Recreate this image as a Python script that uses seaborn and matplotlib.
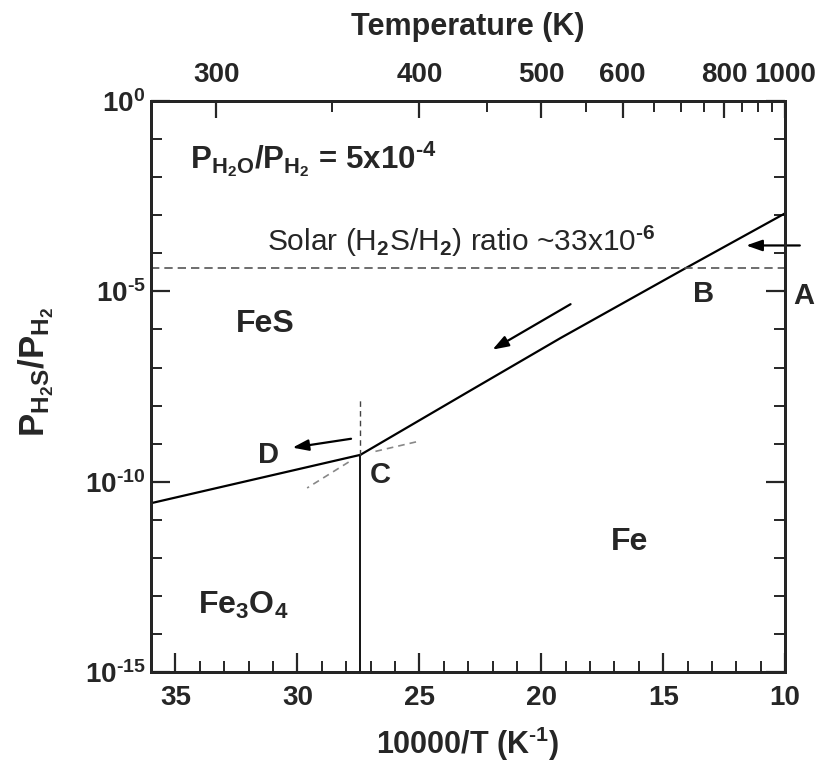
import matplotlib
matplotlib.use("Agg")
import matplotlib.pyplot as plt
import seaborn as sns
import pandas as pd
import numpy as np
from matplotlib.ticker import FixedLocator, NullFormatter, LogLocator

# ---------------- data ----------------
upper_x = [27.42, 23.0, 19.2, 14.1, 10.0]                  # FeS / Fe boundary
upper_y = [5.1e-10, 2.3e-8, 6.0e-7, 4.0e-5, 1.12e-3]
lower_x = [36.0, 27.42]                                    # FeS / Fe3O4 boundary
lower_y = [2.75e-11, 5.1e-10]
bound_x = [27.42, 27.42]                                   # Fe3O4 / Fe boundary
bound_y = [1e-15, 5.1e-10]
vdash_x = [27.42, 27.42]                                   # metastable extension (dashed)
vdash_y = [5.1e-10, 1.4e-8]
ext_up_x = [27.9, 29.6]
ext_up_y = [3.3e-10, 6.9e-11]
ext_lo_x = [26.8, 25.0]
ext_lo_y = [6.3e-10, 1.17e-9]
solar_ratio = 4.2e-5

temp_major = [300, 400, 500, 600, 800, 1000]
temp_minor = [350, 450, 550, 650, 700, 750, 850, 900, 950]
x_major = [35, 30, 25, 20, 15, 10]
y_major = [1e0, 1e-5, 1e-10, 1e-15]
H = "\u2010"
y_labels = [r"10$^{\mathbf{0}}$", r"10$^{\mathbf{" + H + "5}}$",
            r"10$^{\mathbf{" + H + "10}}$", r"10$^{\mathbf{" + H + "15}}$"]

# ---------------- style ----------------
sns.set_theme(style="ticks")
plt.rcParams["font.family"] = ["Liberation Sans", "DejaVu Sans"]
plt.rcParams["mathtext.fontset"] = "custom"
plt.rcParams["mathtext.rm"] = "Liberation Sans"
plt.rcParams["mathtext.it"] = "Liberation Sans"
plt.rcParams["mathtext.bf"] = "Liberation Sans:bold"
plt.rcParams["font.weight"] = "bold"
plt.rcParams["axes.unicode_minus"] = False

fig = plt.figure(figsize=(8.3, 7.64), dpi=100)
ax = fig.add_axes([0.182, 0.12, 0.764, 0.748])

lw = 1.6
df_up = pd.DataFrame({"x": upper_x, "y": upper_y})
df_lo = pd.DataFrame({"x": lower_x, "y": lower_y})
df_b = pd.DataFrame({"x": bound_x, "y": bound_y})
sns.lineplot(data=df_up, x="x", y="y", ax=ax, color="black", lw=lw, estimator=None, sort=False)
sns.lineplot(data=df_lo, x="x", y="y", ax=ax, color="black", lw=lw, estimator=None, sort=False)
sns.lineplot(data=df_b, x="x", y="y", ax=ax, color="black", lw=1.3, estimator=None, sort=False)
ax.plot(vdash_x, vdash_y, color="#444444", lw=1.0, ls=(0, (4, 3)))
ax.plot(ext_up_x, ext_up_y, color="#888888", lw=1.2, ls=(0, (4, 3)))
ax.plot(ext_lo_x, ext_lo_y, color="#888888", lw=1.2, ls=(0, (4, 3)))
ax.axhline(solar_ratio, color="#555555", lw=1.2, ls=(0, (5, 3)))

ax.set_yscale("log")
ax.set_xlim(36, 10)
ax.set_ylim(1e-15, 1e0)

# ticks
ax.xaxis.set_major_locator(FixedLocator(x_major))
ax.xaxis.set_minor_locator(FixedLocator(np.arange(11, 36, 1)))
ax.yaxis.set_major_locator(FixedLocator(y_major))
ax.yaxis.set_minor_locator(LogLocator(base=10, numticks=30, subs=(1.0,)))
ax.yaxis.set_minor_formatter(NullFormatter())
ax.set_yticklabels(y_labels)
ax.tick_params(axis="both", which="major", direction="in", length=14, width=1.6,
               labelsize=20, right=True, top=False)
ax.tick_params(axis="both", which="minor", direction="in", length=8, width=1.4,
               right=True, top=False)
ax.tick_params(axis="x", which="major", pad=9)
ax.tick_params(axis="y", which="major", pad=4)
for lab in ax.get_xticklabels() + ax.get_yticklabels():
    lab.set_fontweight("bold")

for s in ax.spines.values():
    s.set_linewidth(2.0)
    s.set_color("black")

ax.set_xlabel(r"10000/T (K$^{\mathbf{" + H + "1}}$)", fontsize=22, fontweight="bold", labelpad=10)
ax.set_ylabel(r"$\mathbf{P_{H_2S}/P_{H_2}}$", fontsize=25)
ax.yaxis.set_label_coords(-0.15, 0.525)

# top temperature axis
axt = ax.twiny()
axt.set_xlim(ax.get_xlim())
axt.set_xticks([10000 / t for t in temp_major])
axt.set_xticklabels([str(t) for t in temp_major])
axt.xaxis.set_minor_locator(FixedLocator([10000 / t for t in temp_minor]))
axt.tick_params(axis="x", which="major", direction="in", length=12, width=1.6,
                labelsize=20, pad=9)
axt.tick_params(axis="x", which="minor", direction="in", length=8, width=1.4)
for lab in axt.get_xticklabels():
    lab.set_fontweight("bold")
axt.set_xlabel("Temperature (K)", fontsize=22, fontweight="bold", labelpad=20)
for s in axt.spines.values():
    s.set_linewidth(2.0)

# arrows
ap = dict(arrowstyle="-|>,head_length=0.8,head_width=0.28", color="black", lw=1.6,
          shrinkA=0, shrinkB=0)
ax.annotate("", xy=(11.6, 1.6e-4), xytext=(9.4, 1.6e-4), arrowprops=ap, annotation_clip=False)
ax.annotate("", xy=(22.0, 2.95e-7), xytext=(18.8, 4.6e-6), arrowprops=ap)
ax.annotate("", xy=(30.2, 7.9e-10), xytext=(27.8, 1.35e-9), arrowprops=ap)

# labels
lab_kw = dict(fontsize=21, fontweight="bold", ha="center", va="center")
ax.text(9.25, 7.6e-6, "A", clip_on=False, **lab_kw)
ax.text(13.35, 8.3e-6, "B", **lab_kw)
ax.text(26.6, 1.5e-10, "C", **lab_kw)
ax.text(31.2, 5.1e-10, "D", **lab_kw)
reg_kw = dict(fontsize=23, fontweight="bold", ha="center", va="center")
ax.text(31.3, 1.4e-6, "FeS", **reg_kw)
ax.text(16.4, 2.7e-12, "Fe", **reg_kw)
ax.text(32.2, 5.8e-14, r"$\mathbf{Fe_3O_4}$", **reg_kw)
ax.text(34.4, 2.95e-2, r"$\mathbf{P_{H_2O}/P_{H_2}}$ = 5x10$^{\mathbf{" + H + "4}}$",
        fontsize=22.5, fontweight="bold", ha="left", va="center")
ax.text(23.3, 2.0e-4, "Solar (H$_2$S/H$_2$) ratio ~33x10$^{" + H + "6}$",
        fontsize=21.5, fontweight="normal", ha="center", va="center")

fig.savefig("out.png", dpi=100, facecolor="white")
